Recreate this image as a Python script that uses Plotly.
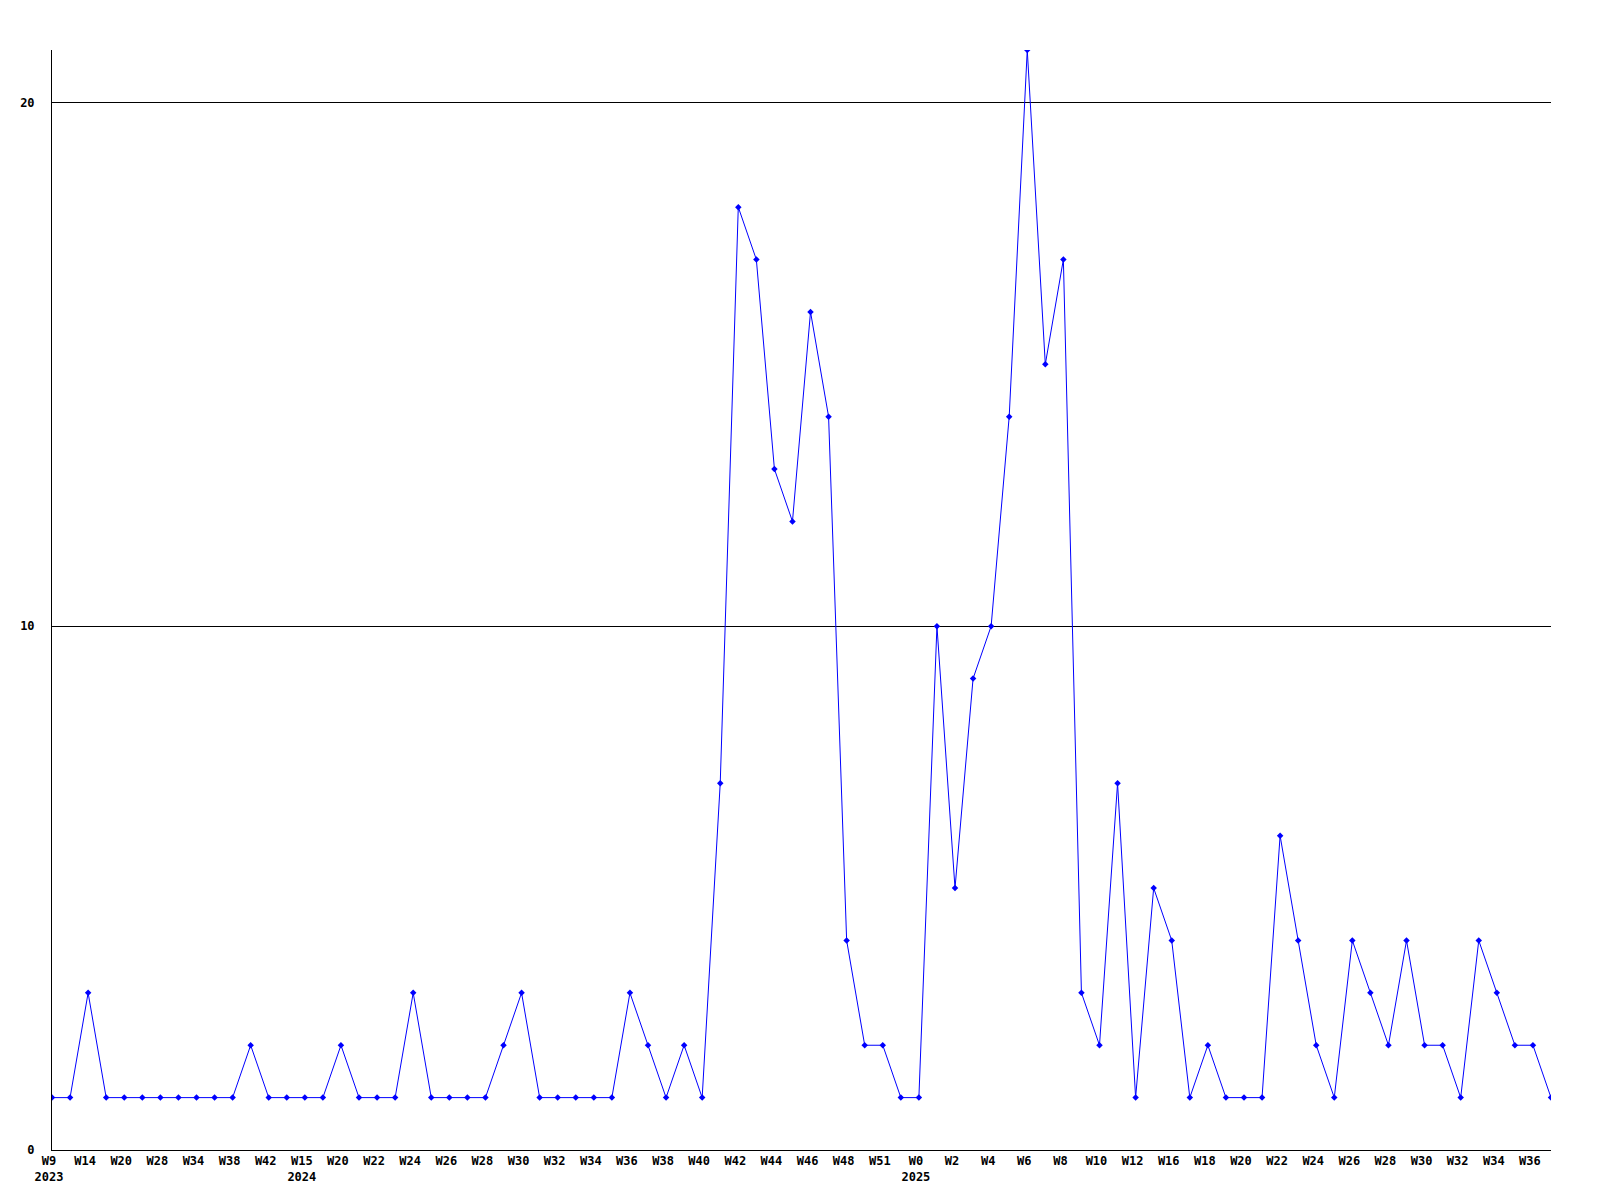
import plotly.graph_objects as go

# weekly counts, one point per reported week
weeks_2023 = [9, 12, 14, 17, 20, 25, 28, 31, 34, 36, 38, 40, 42, 49]
counts_2023 = [1, 1, 3, 1, 1, 1, 1, 1, 1, 1, 1, 2, 1, 1]

weeks_2024 = [15, 17, 20, 21, 22, 23, 24, 25, 26, 27, 28, 29, 30, 31, 32, 33, 34,
              35, 36, 37, 38, 39, 40, 41, 42, 43, 44, 45, 46, 47, 48, 50, 51, 52]
counts_2024 = [1, 1, 2, 1, 1, 1, 3, 1, 1, 1, 1, 2, 3, 1, 1, 1, 1,
               1, 3, 2, 1, 2, 1, 7, 18, 17, 13, 12, 16, 14, 4, 2, 2, 1]

weeks_2025 = [0, 1, 2, 3, 4, 5, 6, 7, 8, 9, 10, 11, 12, 15, 16, 17, 18, 19,
              20, 21, 22, 23, 24, 25, 26, 27, 28, 29, 30, 31, 32, 33, 34, 35, 36, 37]
counts_2025 = [1, 10, 5, 9, 10, 14, 21, 15, 17, 3, 2, 7, 1, 5, 4, 1, 2, 1,
               1, 1, 6, 4, 2, 1, 4, 3, 2, 4, 2, 2, 1, 4, 3, 2, 2, 1]

y_ticks = [0, 10, 20]

categories, counts, labels = [], [], []
for year, weeks, vals in [(2023, weeks_2023, counts_2023),
                          (2024, weeks_2024, counts_2024),
                          (2025, weeks_2025, counts_2025)]:
    for i, (w, v) in enumerate(zip(weeks, vals)):
        categories.append(f"{year}-W{w}")
        counts.append(v)
        labels.append(f"W{w}<br>{year}" if i == 0 else f"W{w}")

tick_vals = categories[::2]
tick_text = labels[::2]

tick_font = dict(family="DejaVu Sans Mono", size=12, color="black", weight="bold")

fig = go.Figure()
fig.add_trace(go.Scatter(x=categories, y=counts, mode="lines+markers",
                         line=dict(color="#0000ff", width=1),
                         marker=dict(color="#0000ff", symbol="diamond", size=5),
                         showlegend=False))

# the page body adds an 8px margin, so the figure is 8px smaller each way
fig.update_layout(width=1592, height=1192,
                  margin=dict(l=42, r=49, t=42, b=50),
                  paper_bgcolor="white", plot_bgcolor="white",
                  font=dict(family="DejaVu Sans Mono", size=12, color="black"))
fig.update_xaxes(type="category", range=[0, len(categories) - 1],
                 tickvals=tick_vals, ticktext=tick_text, tickangle=0,
                 ticklabelshift=-3,
                 showgrid=False, zeroline=False,
                 showline=True, linecolor="black", linewidth=1,
                 tickfont=tick_font)
fig.update_yaxes(range=[0, 21], tickvals=y_ticks, ticktext=[str(v) for v in y_ticks],
                 showgrid=True, gridcolor="black", gridwidth=1, zeroline=False,
                 showline=True, linecolor="black", linewidth=1,
                 ticklabelstandoff=14,
                 tickfont=tick_font)

fig.write_html("out.html")
